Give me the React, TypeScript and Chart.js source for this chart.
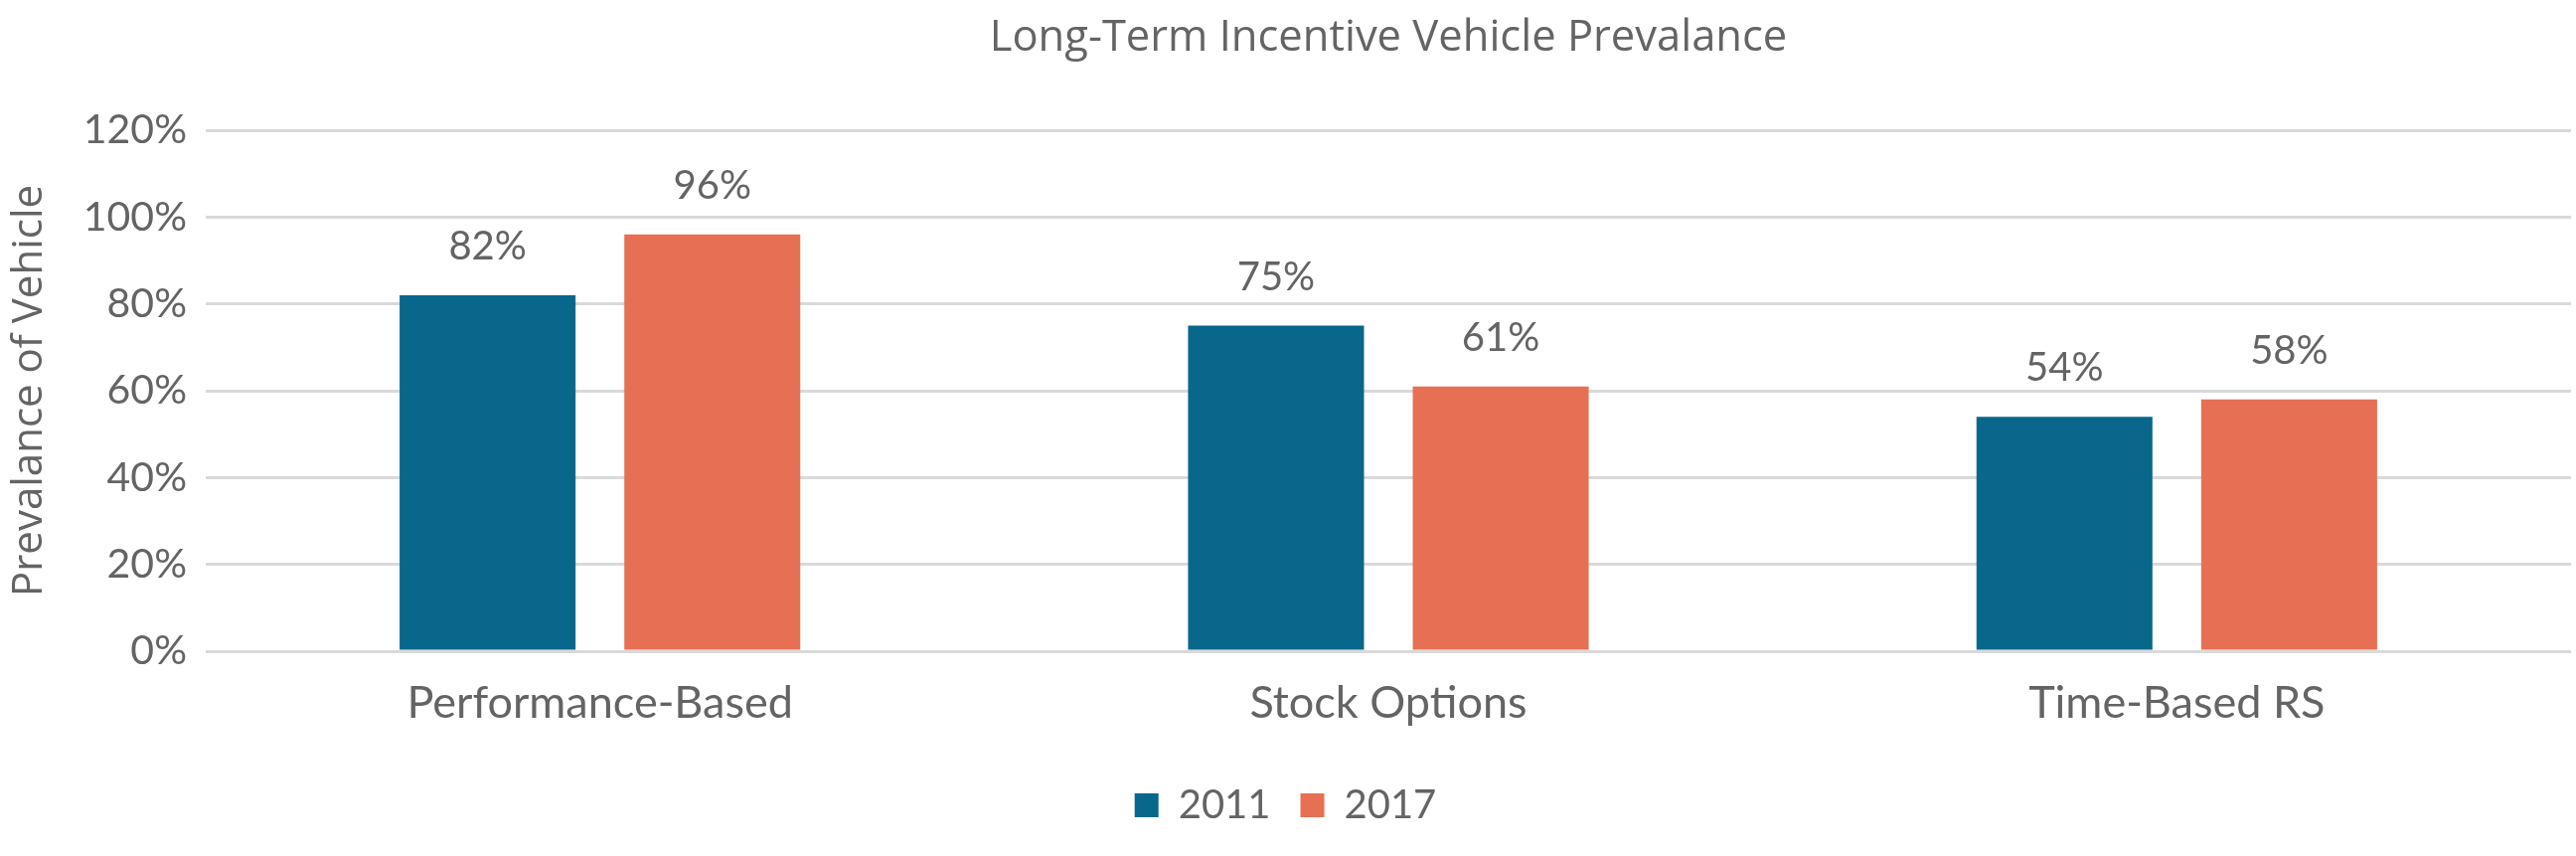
import React, { useEffect, useRef } from "react";
import { Chart, registerables } from "chart.js";

Chart.register(...registerables);

const categories = ["Performance-Based", "Stock Options", "Time-Based RS"];
const seriesNames = ["2011", "2017"];
const values2011 = [82, 75, 54];
const values2017 = [96, 61, 58];
const yMin = 0;
const yMax = 120;
const yStep = 20;
const chartTitle = "Long-Term Incentive Vehicle Prevalance";
const yAxisTitle = "Prevalance of Vehicle";

const FONT = "Lato, 'Open Sans', sans-serif";
const TITLE_FONT = "'Open Sans', Lato, sans-serif";
const TEXT = "#646464";
const BLUE = "#08678B";
const ORANGE = "#E77054";
const GRID = "#D9D9D9";

const overlayPlugin = {
  id: "overlay",
  afterDatasetsDraw(chart: any) {
    const ctx = chart.ctx;
    ctx.save();
    ctx.fillStyle = TEXT;
    ctx.textAlign = "center";
    ctx.textBaseline = "alphabetic";
    ctx.font = `40px ${FONT}`;
    chart.data.datasets.forEach((ds: any, i: number) => {
      const meta = chart.getDatasetMeta(i);
      meta.data.forEach((bar: any, j: number) => {
        ctx.fillText(`${ds.data[j]}%`, bar.x, bar.y - 36);
      });
    });
    const ca = chart.chartArea;
    ctx.font = `43.5px ${TITLE_FONT}`;
    ctx.fillText(chartTitle, (ca.left + ca.right) / 2, 51);
    ctx.restore();
  },
};

export default function App() {
  const ref = useRef<HTMLCanvasElement | null>(null);
  useEffect(() => {
    document.body.style.margin = "0";
    if (!ref.current) return;
    const chart = new Chart(ref.current, {
      type: "bar",
      data: {
        labels: categories,
        datasets: [
          {
            label: seriesNames[0],
            data: values2011,
            backgroundColor: BLUE,
            categoryPercentage: 0.57,
            barPercentage: 0.783,
          },
          {
            label: seriesNames[1],
            data: values2017,
            backgroundColor: ORANGE,
            categoryPercentage: 0.57,
            barPercentage: 0.783,
          },
        ],
      },
      options: {
        responsive: false,
        animation: false,
        devicePixelRatio: 1,
        layout: { padding: { top: 131, right: 5, bottom: 21, left: 0 } },
        plugins: {
          title: { display: false },
          tooltip: { enabled: false },
          legend: {
            display: true,
            position: "bottom",
            labels: {
              boxWidth: 24,
              boxHeight: 24,
              padding: 30,
              color: TEXT,
              font: { family: FONT, size: 40 },
            },
          },
        },
        scales: {
          x: {
            grid: { display: false, drawTicks: false },
            border: { display: false },
            ticks: {
              color: TEXT,
              font: { family: FONT, size: 45 },
              padding: 25,
            },
            afterFit(scale: any) {
              scale.height = 105;
            },
          },
          y: {
            min: yMin,
            max: yMax,
            grid: { color: GRID, lineWidth: 3, drawTicks: false },
            border: { display: false },
            ticks: {
              stepSize: yStep,
              color: TEXT,
              font: { family: FONT, size: 41 },
              padding: 19,
              callback: (v: any) => `${v}%`,
            },
            title: {
              display: true,
              text: yAxisTitle,
              color: TEXT,
              font: { family: TITLE_FONT, size: 42 },
              padding: { top: 5, bottom: 0 },
            },
            afterFit(scale: any) {
              scale.width = 207;
            },
          },
        },
      },
      plugins: [overlayPlugin],
    });
    return () => chart.destroy();
  }, []);
  return (
    <div style={{ width: 2592, height: 861 }}>
      <canvas ref={ref} width={2592} height={861} style={{ display: "block", width: 2592, height: 861 }} />
    </div>
  );
}
